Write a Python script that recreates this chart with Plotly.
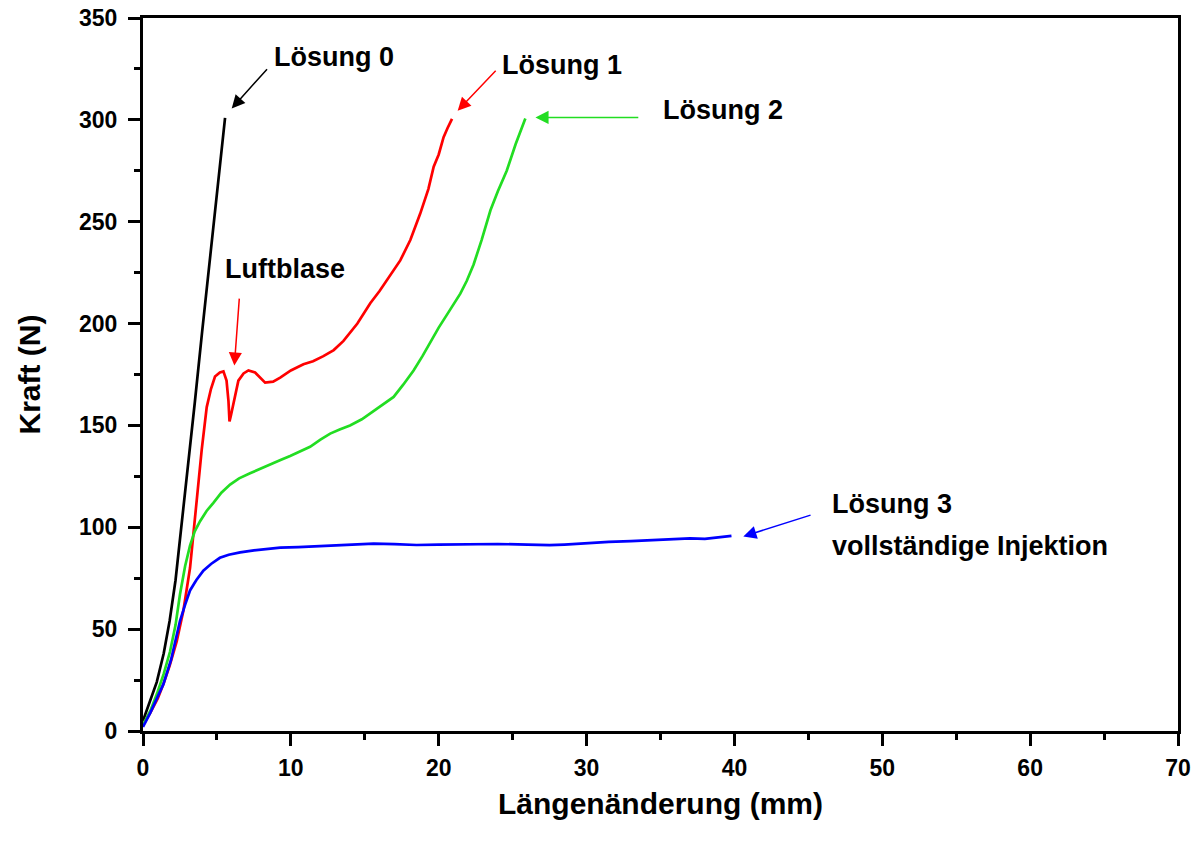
import plotly.graph_objects as go

# ---- data ----
x_l0 = [0, 0.45, 0.93, 1.4, 1.8, 2.2, 2.6, 3.0, 3.5, 4.0, 4.5, 5.0, 5.55]
y_l0 = [5, 14, 24, 38, 54, 74, 100, 127, 161, 196, 230, 263, 301]

x_l1 = [0, 0.5, 1.0, 1.38, 1.8, 2.28, 2.73, 3.18, 3.63, 3.97, 4.31, 4.6, 4.87, 5.2, 5.44,
        5.65, 5.78, 5.85, 5.95, 6.12, 6.3, 6.45, 6.8, 7.13, 7.58, 7.9, 8.26, 8.8, 9.28,
        10.0, 10.85, 11.5, 12.2, 12.9, 13.56, 14.5, 15.37, 16.0, 16.72, 17.4, 18.08,
        18.75, 19.3, 19.66, 20.0, 20.33, 20.6, 20.9]
y_l1 = [3, 9, 16, 23, 32, 44, 59, 80, 113, 138, 159, 168, 174, 176, 176.5,
        172, 162, 152, 155, 161, 167, 172, 175.5, 177, 176, 173.5, 171, 171.5, 173.5,
        177, 180, 181.5, 184, 187, 191.5, 200, 210, 216, 224, 231, 241,
        254, 266, 277, 283, 291.5, 296, 300.5]

x_l2 = [0, 0.5, 0.93, 1.4, 1.83, 2.2, 2.5, 2.85, 3.18, 3.5, 3.86, 4.3, 4.76, 5.3, 5.89,
        6.5, 7.24, 8.0, 8.6, 9.3, 9.95, 10.6, 11.3, 12.0, 12.66, 13.3, 14.0, 14.8, 15.6,
        16.3, 16.95, 17.6, 18.3, 18.9, 19.43, 20.0, 20.7, 21.46, 21.9, 22.36, 22.9, 23.5,
        24.0, 24.6, 25.2, 25.86]
y_l2 = [3, 10, 18, 28, 39, 52, 67, 81, 91, 98, 103, 108, 112, 117, 121,
        124, 126.5, 129, 131, 133, 135, 137, 139.5, 143, 146, 148, 150, 153, 157,
        160.5, 164, 170, 177, 184, 191, 198, 206, 214.7, 221, 229, 241, 255.6,
        265, 275, 288, 300.7]

x_l3 = [0, 0.5, 1.0, 1.38, 1.9, 2.5, 2.85, 3.18, 3.6, 4.08, 4.6, 5.2, 5.8, 6.57, 7.5,
        8.5, 9.28, 10.5, 11.5, 12.66, 14.0, 15.6, 17.0, 18.5, 20.0, 22.0, 24.0, 26.0,
        27.5, 28.5, 30.0, 31.5, 33.0, 34.5, 36.0, 37.0, 38.0, 39.0, 39.8]
y_l3 = [2, 9, 17, 23, 35, 54, 62, 69, 74, 78.7, 82, 85, 86.5, 87.7, 88.7,
        89.3, 90, 90.3, 90.6, 91, 91.4, 92, 91.7, 91.3, 91.5, 91.8, 91.8, 91.5,
        91.2, 91.5, 92.3, 92.8, 93.2, 93.6, 94.2, 94.6, 94.3, 95.2, 95.8]

series = [
    ("Lösung 0", x_l0, y_l0, "#000000"),
    ("Lösung 1", x_l1, y_l1, "#ff0000"),
    ("Lösung 2", x_l2, y_l2, "#22dd22"),
    ("Lösung 3", x_l3, y_l3, "#0000ff"),
]

# annotation labels: (text, x, y, colour of arrow, arrow tail x, y, arrow head x, y)
labels = [
    ("Lösung 0", 8.7, 331, "#000000", 8.48, 325.6, 6.0, 305.6),
    ("Lösung 1", 24.17, 327, "#ff0000", 23.95, 324.8, 21.28, 304.5),
    ("Lösung 2", 35.0, 305, "#22dd22", 33.6, 301.2, 26.54, 301.2),
    ("Luftblase", 5.4, 226.6, "#ff0000", 6.52, 213, 6.18, 179.4),
    ("Lösung 3", 46.44, 111.6, "#0000ff", 45.25, 106.2, 40.6, 95.5),
]
extra_text = [("vollständige Injektion", 46.44, 90.6)]

fig = go.Figure()
for name, xs, ys, col in series:
    fig.add_trace(go.Scatter(x=xs, y=ys, mode="lines", name=name,
                             line=dict(color=col, width=2.7), showlegend=False))

FONT = "Liberation Sans, Arial, sans-serif"
afont = dict(family=FONT, size=27, color="#000000")
for text, tx, ty, col, ax, ay, hx, hy in labels:
    fig.add_annotation(x=hx, y=hy, ax=ax, ay=ay, xref="x", yref="y", axref="x", ayref="y",
                       text="", showarrow=True, arrowhead=2, arrowsize=1.75,
                       arrowwidth=1.5, arrowcolor=col)
    fig.add_annotation(x=tx, y=ty, xref="x", yref="y", text="<b>%s</b>" % text,
                       showarrow=False, xanchor="left", yanchor="middle", font=afont)
for text, tx, ty in extra_text:
    fig.add_annotation(x=tx, y=ty, xref="x", yref="y", text="<b>%s</b>" % text,
                       showarrow=False, xanchor="left", yanchor="middle", font=afont)

tickfont = dict(family=FONT, size=23, color="#000000")
fig.update_layout(
    width=1196, height=860,
    margin=dict(l=143, r=18, t=18, b=129, autoexpand=False),
    paper_bgcolor="white", plot_bgcolor="white",
    xaxis=dict(range=[0, 70], dtick=10, tick0=0, showgrid=False, zeroline=False,
               automargin=False, ticklabeloverflow="allow",
               showline=True, linecolor="black", linewidth=3, mirror=True,
               ticks="outside", ticklen=12, tickwidth=3, tickcolor="black",
               minor=dict(ticks="outside", ticklen=6, tickwidth=2.5, tickcolor="black", dtick=5),
               tickfont=tickfont, tickprefix="<b>", ticksuffix="</b>", ticklabelstandoff=2,
               title=dict(text="<b>Längenänderung (mm)</b>", standoff=14,
                          font=dict(family=FONT, size=30, color="black"))),
    yaxis=dict(range=[0, 350], dtick=50, tick0=0, showgrid=False, zeroline=False,
               automargin=False, ticklabeloverflow="allow",
               showline=True, linecolor="black", linewidth=3, mirror=True,
               ticks="outside", ticklen=12, tickwidth=3, tickcolor="black",
               minor=dict(ticks="outside", ticklen=6, tickwidth=2.5, tickcolor="black", dtick=25),
               tickfont=tickfont, tickprefix="<b>", ticksuffix="</b>", ticklabelstandoff=6,
               title=dict(text="<b>Kraft (N)</b>", standoff=30,
                          font=dict(family=FONT, size=30, color="black"))),
)

fig.write_html("out.html",
               config={"displayModeBar": False},
               post_script="document.body.style.margin='0';document.body.style.overflow='hidden';")
